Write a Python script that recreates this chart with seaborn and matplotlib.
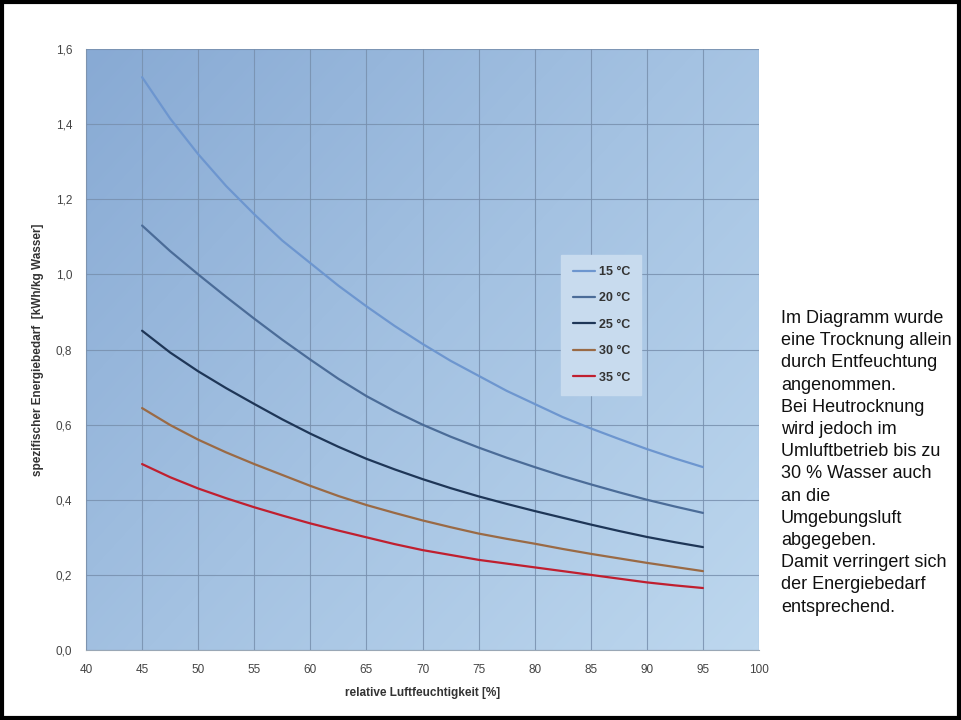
import numpy as np
import pandas as pd
import matplotlib
matplotlib.use("Agg")
import matplotlib.pyplot as plt
import seaborn as sns
from matplotlib.colors import LinearSegmentedColormap
from matplotlib.patches import Rectangle

# relative humidity [%]
humidity = [45, 47.5, 50, 52.5, 55, 57.5, 60, 62.5, 65, 67.5, 70,
            72.5, 75, 77.5, 80, 82.5, 85, 87.5, 90, 92.5, 95]

# specific energy demand [kWh/kg water]
e_15 = [1.525, 1.415, 1.32, 1.235, 1.16, 1.09, 1.03, 0.97, 0.915, 0.863, 0.815,
        0.77, 0.73, 0.69, 0.655, 0.62, 0.59, 0.562, 0.535, 0.51, 0.487]
e_20 = [1.13, 1.062, 1.0, 0.94, 0.882, 0.826, 0.773, 0.722, 0.676, 0.636, 0.60,
        0.568, 0.539, 0.512, 0.487, 0.463, 0.441, 0.42, 0.40, 0.382, 0.365]
e_25 = [0.85, 0.792, 0.742, 0.697, 0.655, 0.614, 0.576, 0.541, 0.509, 0.481, 0.455,
        0.431, 0.409, 0.389, 0.37, 0.352, 0.334, 0.317, 0.301, 0.287, 0.274]
e_30 = [0.644, 0.599, 0.56, 0.526, 0.495, 0.466, 0.437, 0.41, 0.386, 0.365, 0.345,
        0.327, 0.31, 0.296, 0.283, 0.269, 0.256, 0.244, 0.232, 0.221, 0.21]
e_35 = [0.495, 0.46, 0.43, 0.404, 0.38, 0.358, 0.337, 0.318, 0.30, 0.282, 0.266,
        0.253, 0.24, 0.23, 0.22, 0.21, 0.2, 0.19, 0.18, 0.172, 0.165]

series_labels = ["15 °C", "20 °C", "25 °C", "30 °C", "35 °C"]
series_colors = ["#6d96cf", "#4b6c98", "#1e3657", "#9a6a45", "#c01f2f"]

x_ticks = [40, 45, 50, 55, 60, 65, 70, 75, 80, 85, 90, 95, 100]
y_ticks = [0.0, 0.2, 0.4, 0.6, 0.8, 1.0, 1.2, 1.4, 1.6]

note_lines = [
    "Im Diagramm wurde",
    "eine Trocknung allein",
    "durch Entfeuchtung",
    "angenommen.",
    "Bei Heutrocknung",
    "wird jedoch im",
    "Umluftbetrieb bis zu",
    "30 % Wasser auch",
    "an die",
    "Umgebungsluft",
    "abgegeben.",
    "Damit verringert sich",
    "der Energiebedarf",
    "entsprechend.",
]

frames = []
for label, vals in zip(series_labels, [e_15, e_20, e_25, e_30, e_35]):
    frames.append(pd.DataFrame({"rh": humidity, "energy": vals, "temp": label}))
df = pd.concat(frames, ignore_index=True)

sns.set_style("white")
plt.rcParams["font.family"] = ["Liberation Sans", "DejaVu Sans"]

fig = plt.figure(figsize=(9.61, 7.2), dpi=100)
ax = fig.add_axes([86 / 961, 70 / 720, 673 / 961, 601 / 720])

# gradient background of the plot area
bg_cmap = LinearSegmentedColormap.from_list("bg", ["#88aad4", "#a4c2e2", "#bdd7ee"])
gx, gy = np.meshgrid(np.linspace(0, 1, 200), np.linspace(0, 1, 200))
grad = 0.55 * gx + 0.45 * gy
ax.imshow(grad, cmap=bg_cmap, extent=[40, 100, 0, 1.6], origin="upper",
          aspect="auto", zorder=0, interpolation="bilinear")

sns.lineplot(data=df, x="rh", y="energy", hue="temp",
             palette=dict(zip(series_labels, series_colors)),
             linewidth=1.6, ax=ax, zorder=3)

ax.set_xlim(40, 100)
ax.set_ylim(0, 1.6)
ax.set_xticks(x_ticks)
ax.set_yticks(y_ticks)
ax.set_yticklabels([f"{v:.1f}".replace(".", ",") for v in y_ticks])
ax.grid(True, color="#7890ae", linewidth=0.8, alpha=0.85, zorder=1)
ax.set_axisbelow(False)
for s in ["top", "right"]:
    ax.spines[s].set_visible(False)
for s in ["left", "bottom"]:
    ax.spines[s].set_color("#9aa7b5")
    ax.spines[s].set_linewidth(0.8)
ax.tick_params(axis="both", labelsize=8.5, colors="#444444", length=4,
               width=0.8, direction="out", color="#9aa7b5", pad=6)

ax.set_xlabel("relative Luftfeuchtigkeit [%]", fontsize=8.5, fontweight="bold",
              color="#333333", labelpad=8)
ax.set_ylabel("spezifischer Energiebedarf  [kWh/kg Wasser]", fontsize=8.5,
              fontweight="bold", color="#333333", labelpad=8)

leg = ax.legend(loc="upper left", bbox_to_anchor=(0.697, 0.668), frameon=True,
                fontsize=9, handlelength=1.8, labelspacing=1.15,
                borderpad=0.9, handletextpad=0.3, title=None)
leg.get_frame().set_facecolor("#c8dbee")
leg.get_frame().set_edgecolor("#c8dbee")
leg.get_frame().set_alpha(1.0)
leg.get_frame().set_boxstyle("square", pad=0.0)
for t in leg.get_texts():
    t.set_fontweight("bold")
    t.set_color("#333333")

fig.text(781 / 961, 1 - 310 / 720, "\n".join(note_lines), fontsize=13,
         va="top", ha="left", color="#111111", linespacing=1.4)

# outer black frame
fig.patches.append(Rectangle((0.002, 0.003), 0.996, 0.994, transform=fig.transFigure,
                             fill=False, edgecolor="black", linewidth=3))

fig.savefig("out.png", dpi=100)
